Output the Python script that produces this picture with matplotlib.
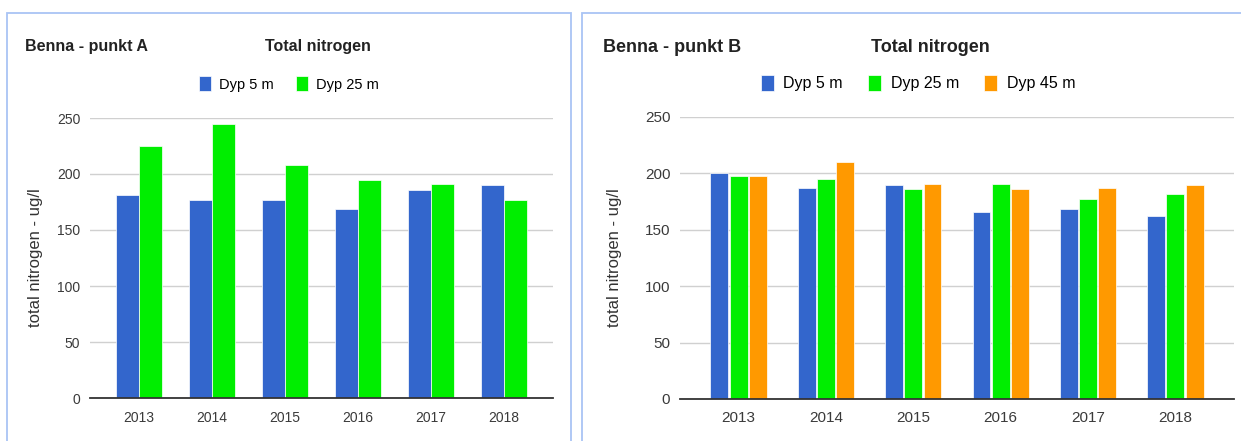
import matplotlib
matplotlib.use('Agg')
import matplotlib.pyplot as plt
from matplotlib.patches import Rectangle
import numpy as np

# Data
years = ['2013', '2014', '2015', '2016', '2017', '2018']
a_dyp5 = [181, 177, 177, 169, 186, 190]
a_dyp25 = [225, 245, 208, 195, 191, 177]
b_dyp5 = [200, 187, 190, 166, 168, 162]
b_dyp25 = [198, 195, 186, 191, 177, 182]
b_dyp45 = [198, 210, 191, 186, 187, 190]

W, H = 1241, 441
BLUE, GREEN, ORANGE = '#3366cc', '#00ee00', '#ff9900'
FAM = ['Liberation Sans', 'DejaVu Sans']

fig = plt.figure(figsize=(W / 100, H / 100), dpi=100)
fig.patch.set_facecolor('white')


def box(x0, y0, x1, y1):
    # pixel box -> figure fraction [left, bottom, width, height]
    return [x0 / W, 1 - y1 / H, (x1 - x0) / W, (y1 - y0) / H]


# panel frames
for x0, x1 in [(7, 571), (582, 1250)]:
    fig.patches.append(Rectangle((x0 / W, -0.05), (x1 - x0) / W, 1.05 - 13 / H,
                                 transform=fig.transFigure, fill=False,
                                 edgecolor='#a9c4f5', linewidth=1.3))


def style_axes(ax, tsize, lab_x):
    ax.set_ylim(0, 250)
    ax.set_xlim(-0.67, 5.67)
    ax.set_yticks([0, 50, 100, 150, 200, 250])
    ax.grid(axis='y', color='#d0d0d0', linewidth=1)
    ax.set_axisbelow(True)
    for s in ['top', 'right', 'left']:
        ax.spines[s].set_visible(False)
    ax.spines['bottom'].set_color('#333333')
    ax.spines['bottom'].set_linewidth(1.3)
    ax.tick_params(length=0, labelcolor='#3a3a3a', labelsize=tsize)
    ax.tick_params(axis='x', pad=9)
    ax.tick_params(axis='y', pad=7)
    for lbl in ax.get_xticklabels() + ax.get_yticklabels():
        lbl.set_family(FAM)
    ax.set_ylabel('total nitrogen - ug/l', fontsize=12, color='#333333', family=FAM)
    ax.yaxis.set_label_coords(lab_x, 0.5)


x = np.arange(len(years))

# Panel A (the text in this panel is narrower in the reference)
axA = fig.add_axes(box(90, 118, 553, 398))
w = 0.31
hA = [axA.bar(x - w / 2, a_dyp5, w, color=BLUE, edgecolor='white', linewidth=0.5, label='Dyp 5 m'),
      axA.bar(x + w / 2, a_dyp25, w, color=GREEN, edgecolor='white', linewidth=0.5, label='Dyp 25 m')]
axA.set_xticks(x, years)
style_axes(axA, 10, -0.101)
fig.text(25 / W, 1 - 47 / H, 'Benna - punkt A', fontsize=11.5, fontweight='bold',
         family=FAM, va='center', ha='left', color='#222222')
fig.text(318 / W, 1 - 47 / H, 'Total nitrogen', fontsize=11.5, fontweight='bold',
         family=FAM, va='center', ha='center', color='#222222')
fig.legend(handles=hA, loc='center', bbox_to_anchor=(289 / W, 1 - 84 / H), ncol=2,
           frameon=False, handlelength=0.8, handleheight=1.2, handletextpad=0.6,
           columnspacing=1.5, prop={'family': FAM, 'size': 10.5})

# Panel B
axB = fig.add_axes(box(680, 117, 1234, 399))
w = 0.205
hB = [axB.bar(x - 0.22, b_dyp5, w, color=BLUE, edgecolor='white', linewidth=0.5, label='Dyp 5 m'),
      axB.bar(x, b_dyp25, w, color=GREEN, edgecolor='white', linewidth=0.5, label='Dyp 25 m'),
      axB.bar(x + 0.22, b_dyp45, w, color=ORANGE, edgecolor='white', linewidth=0.5, label='Dyp 45 m')]
axB.set_xticks(x, years)
style_axes(axB, 11, -0.105)
fig.text(603 / W, 1 - 47 / H, 'Benna - punkt B', fontsize=13, fontweight='bold',
         family=FAM, va='center', ha='left', color='#222222')
fig.text(930 / W, 1 - 47 / H, 'Total nitrogen', fontsize=13, fontweight='bold',
         family=FAM, va='center', ha='center', color='#222222')
fig.legend(handles=hB, loc='center', bbox_to_anchor=(918 / W, 1 - 83 / H), ncol=3,
           frameon=False, handlelength=0.8, handleheight=1.2, handletextpad=0.6,
           columnspacing=1.6, prop={'family': FAM, 'size': 11.5})

fig.savefig('out.png', dpi=100)
